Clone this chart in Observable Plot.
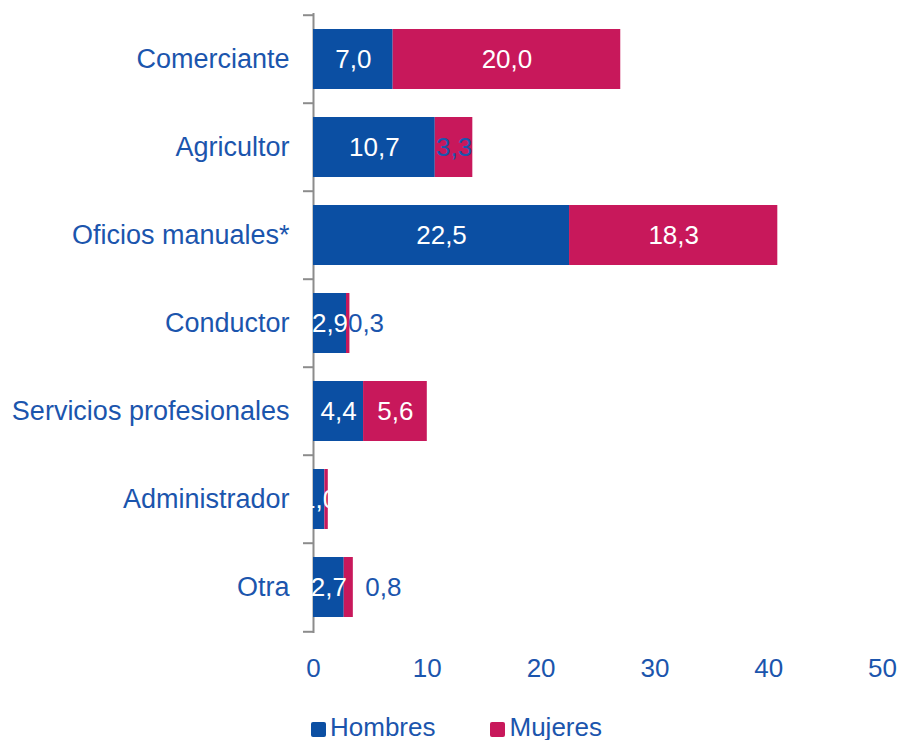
<!DOCTYPE html>
<html>
<head>
<meta charset="utf-8">
<script src="https://cdn.jsdelivr.net/npm/d3@7"></script>
<script src="https://cdn.jsdelivr.net/npm/@observablehq/plot@0.6"></script>
<style>
  body { margin: 0; background: #fff; font-family: "Liberation Sans", Arial, sans-serif; }
  #legend { display: flex; align-items: center; height: 30px; margin-top: 12px; font-size: 26px; color: #1b55ad; }
  .item { display: flex; align-items: center; }
  .sw { width: 15px; height: 15px; border-radius: 2px; margin-right: 4px; margin-top: 4px; }
</style>
</head>
<body>
<div id="chart"></div>
<div id="legend"></div>
<script>
// ---- data ----
const categories = ["Comerciante", "Agricultor", "Oficios manuales*", "Conductor", "Servicios profesionales", "Administrador", "Otra"];
const series = ["Hombres", "Mujeres"];
const hombres = [7.0, 10.7, 22.5, 2.9, 4.4, 1.0, 2.7];
const mujeres = [20.0, 3.3, 18.3, 0.3, 5.6, 0.3, 0.8];
const xTicks = [0, 10, 20, 30, 40, 50];

// ---- styles ----
const BLUE = "#0b4fa3";
const PINK = "#c8185b";
const TEXT = "#1b55ad";
const GRAY = "#8c8c8c";
const W = 897, H = 700, mL = 313, mR = 15, mT = 13, mB = 67;
const step = (H - mT - mB) / categories.length;
const pxPerUnit = (W - mL - mR) / 50;

const rows = [];
categories.forEach((cat, i) => {
  let start = 0;
  [hombres[i], mujeres[i]].forEach((v, j) => {
    rows.push({cat, serie: series[j], value: v, start, end: start + v});
    start += v;
  });
});
const fmt = v => d3.format(".1f")(v).replace(".", ",");

const whiteLabels = rows.filter(d => d.serie === "Hombres" || d.value >= 5);
const blueMid = rows.filter(d => d.serie === "Mujeres" && d.value >= 1 && d.value < 5);
const blueSmall = rows.filter(d => d.serie === "Mujeres" && d.value < 1 && d.cat !== "Administrador");

const chart = Plot.plot({
  width: W, height: H,
  marginLeft: mL, marginRight: mR, marginTop: mT, marginBottom: mB,
  style: {fontSize: "26px", fontFamily: "'Liberation Sans', Arial, sans-serif", color: TEXT, background: "#fff"},
  x: {domain: [0, 50]},
  y: {domain: categories, paddingInner: 0.32, paddingOuter: 0.16},
  color: {domain: series, range: [BLUE, PINK]},
  marks: [
    Plot.ruleX([0], {stroke: GRAY, strokeWidth: 2}),
    Plot.ruleY(categories, {y: d => d, x1: -10 / pxPerUnit, x2: 0, dy: -step / 2, stroke: GRAY, strokeWidth: 2}),
    Plot.ruleY(categories.slice(-1), {y: d => d, x1: -10 / pxPerUnit, x2: 0, dy: step / 2, stroke: GRAY, strokeWidth: 2}),
    Plot.barX(rows, {y: "cat", x1: "start", x2: "end", fill: "serie"}),
    Plot.text(whiteLabels, {y: "cat", x: d => (d.start + d.end) / 2, text: d => fmt(d.value), fill: "white"}),
    Plot.text(blueMid, {y: "cat", x: d => (d.start + d.end) / 2, text: d => fmt(d.value), fill: TEXT}),
    Plot.text(blueSmall.filter(d => d.cat !== "Otra"), {y: "cat", x: "end", text: d => fmt(d.value), fill: TEXT, textAnchor: "start", dx: -2}),
    Plot.text(blueSmall.filter(d => d.cat === "Otra"), {y: "cat", x: "end", text: d => fmt(d.value), fill: TEXT, textAnchor: "start", dx: 12}),
    Plot.axisX(xTicks, {tickSize: 0, tickPadding: 25, label: null}),
    Plot.axisY({tickSize: 0, tickPadding: 24, label: null, fontSize: 27})
  ]
});
document.getElementById("chart").appendChild(chart);

const legend = document.getElementById("legend");
const colors = [BLUE, PINK];
series.forEach((s, i) => {
  const item = document.createElement("div");
  item.className = "item";
  item.style.marginLeft = i === 0 ? "311px" : "55px";
  item.innerHTML = `<div class="sw" style="background:${colors[i]}"></div><span>${s}</span>`;
  legend.appendChild(item);
});
</script>
</body>
</html>
